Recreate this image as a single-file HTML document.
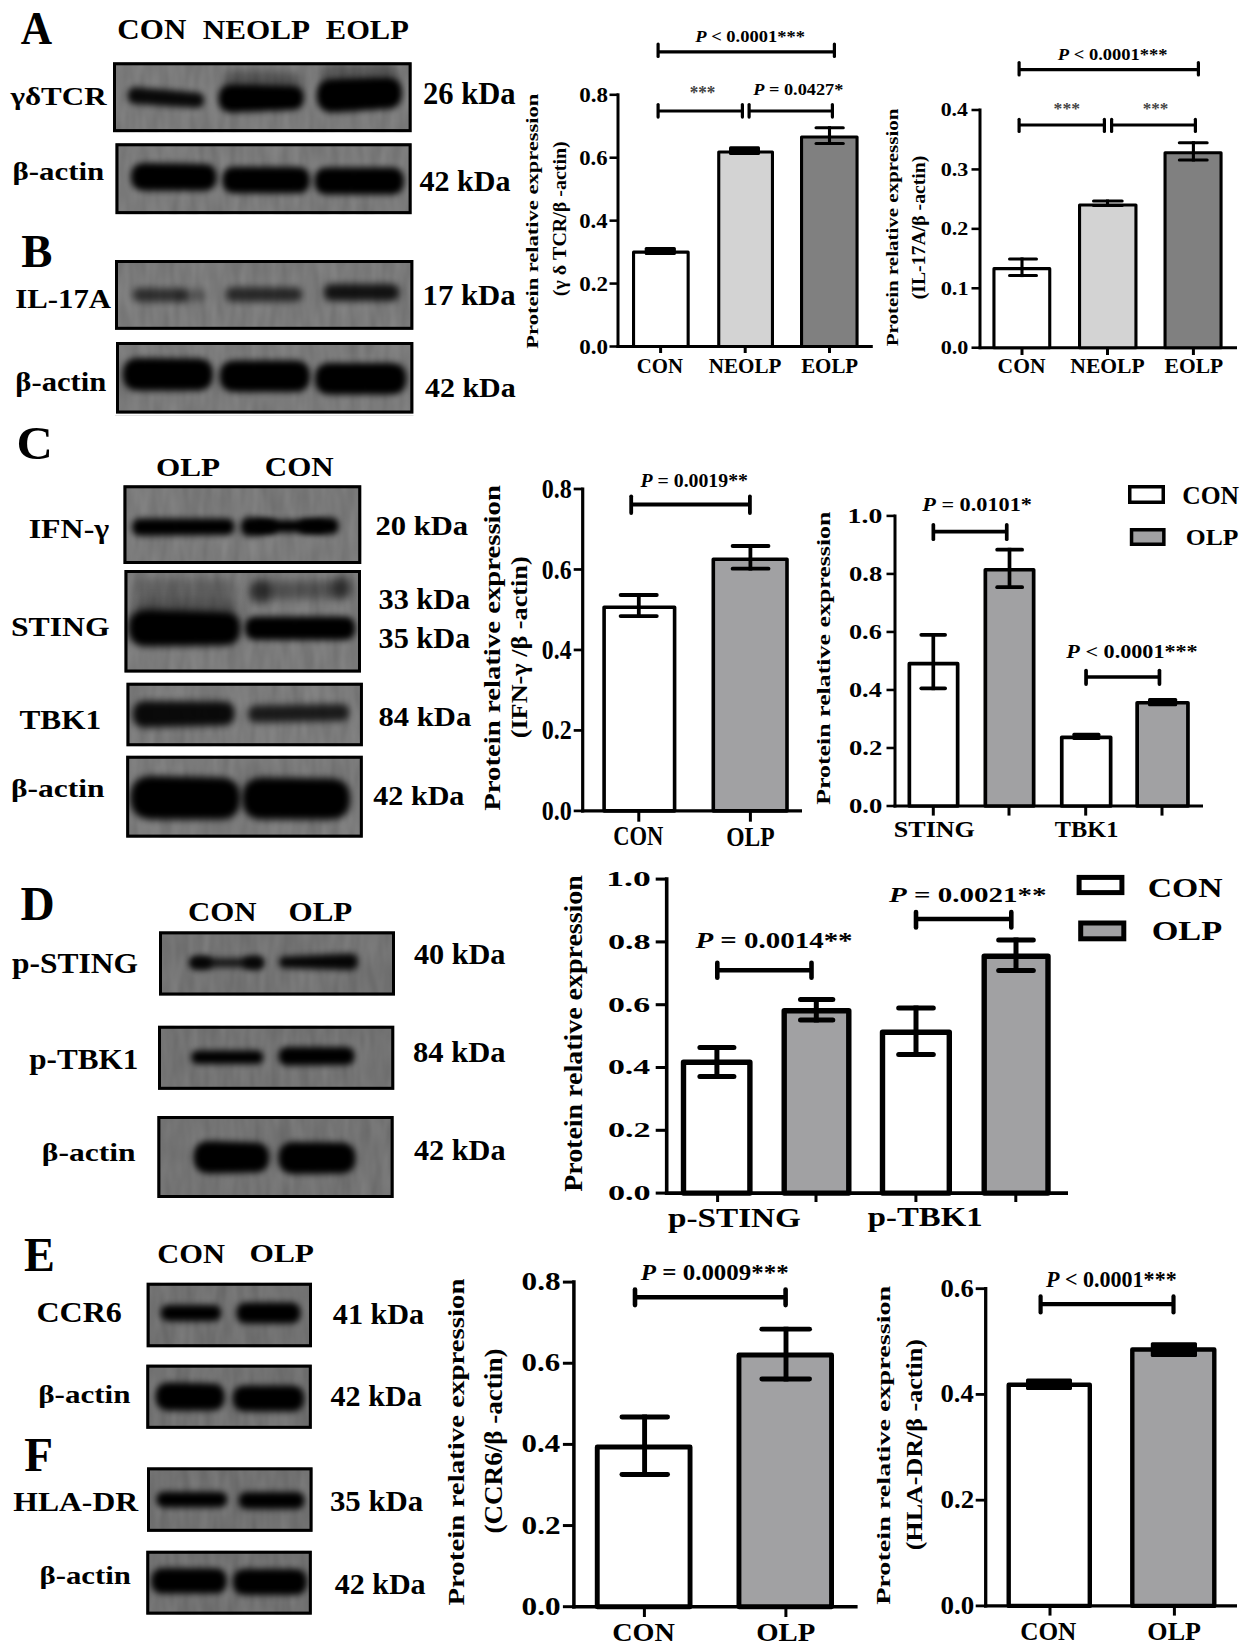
<!DOCTYPE html>
<html><head><meta charset="utf-8"><style>
html,body{margin:0;padding:0;background:#fff;}
svg{display:block;}
text{font-family:"Liberation Serif",serif;font-weight:bold;}
</style></head><body>
<svg width="1247" height="1649" viewBox="0 0 1247 1649">
<defs>
<filter id="b32" x="-30%" y="-100%" width="160%" height="300%"><feGaussianBlur stdDeviation="3.2"/></filter>
<filter id="b34" x="-30%" y="-100%" width="160%" height="300%"><feGaussianBlur stdDeviation="3.4"/></filter>
<filter id="b36" x="-30%" y="-100%" width="160%" height="300%"><feGaussianBlur stdDeviation="3.6"/></filter>
<filter id="b38" x="-30%" y="-100%" width="160%" height="300%"><feGaussianBlur stdDeviation="3.8"/></filter>
<filter id="b40" x="-30%" y="-100%" width="160%" height="300%"><feGaussianBlur stdDeviation="4.0"/></filter>
<filter id="b45" x="-30%" y="-100%" width="160%" height="300%"><feGaussianBlur stdDeviation="4.5"/></filter>
<filter id="b50" x="-30%" y="-100%" width="160%" height="300%"><feGaussianBlur stdDeviation="5.0"/></filter>
<filter id="nz" x="0" y="0" width="100%" height="100%" color-interpolation-filters="sRGB"><feTurbulence type="fractalNoise" baseFrequency="0.1 0.025" numOctaves="2" seed="7"/><feColorMatrix type="matrix" values="1 0 0 0 0  1 0 0 0 0  1 0 0 0 0  0 0 0 0 1"/></filter>
</defs>
<rect width="1247" height="1649" fill="#fff"/>
<line x1="115" y1="415.5" x2="413.5" y2="415.5" stroke="#e2e2e2" stroke-width="1"/>
<clipPath id="c1"><rect x="113.00" y="62.30" width="298.60" height="69.80"/></clipPath>
<rect x="113.00" y="62.30" width="298.60" height="69.80" fill="#7a7a7a"/>
<rect x="113.00" y="62.30" width="298.60" height="69.80" fill="#808080" filter="url(#nz)" opacity="0.10"/>
<g clip-path="url(#c1)">
<path d="M135.9 87.3 L196.4 92.5 Q204.2 92.5 204.2 100.2 Q204.2 108.0 196.4 108.0 L135.9 104.0 Q127.6 104.0 127.6 95.7 Q127.6 87.3 135.9 87.3 Z" fill="#060606" opacity="0.92" filter="url(#b32)"/>
<path d="M232.4 84.5 L291.8 86.0 Q303.8 86.0 303.8 98.0 Q303.8 110.0 291.8 110.0 L232.4 112.5 Q218.4 112.5 218.4 98.5 Q218.4 84.5 232.4 84.5 Z" fill="#060606" opacity="1.00" filter="url(#b32)"/>
<path d="M237.0 70.5 L289.0 72.5 Q301.0 72.5 301.0 84.5 Q301.0 96.5 289.0 96.5 L237.0 96.5 Q224.0 96.5 224.0 83.5 Q224.0 70.5 237.0 70.5 Z" fill="#060606" opacity="0.35" filter="url(#b50)"/>
<path d="M333.4 79.0 L386.1 77.5 Q401.9 77.5 401.9 93.2 Q401.9 109.0 386.1 109.0 L333.4 112.5 Q316.6 112.5 316.6 95.8 Q316.6 79.0 333.4 79.0 Z" fill="#060606" opacity="1.00" filter="url(#b32)"/>
<path d="M334.5 64.5 L385.5 64.5 Q399.0 64.5 399.0 78.0 Q399.0 91.5 385.5 91.5 L334.5 91.5 Q321.0 91.5 321.0 78.0 Q321.0 64.5 334.5 64.5 Z" fill="#060606" opacity="0.30" filter="url(#b50)"/>
</g>
<rect x="114.50" y="63.80" width="295.60" height="66.80" fill="none" stroke="#000" stroke-width="3.00"/>
<clipPath id="c2"><rect x="115.50" y="143.30" width="296.10" height="70.80"/></clipPath>
<rect x="115.50" y="143.30" width="296.10" height="70.80" fill="#7a7a7a"/>
<rect x="115.50" y="143.30" width="296.10" height="70.80" fill="#808080" filter="url(#nz)" opacity="0.10"/>
<g clip-path="url(#c2)">
<path d="M144.8 162.9 L203.3 164.0 Q216.7 164.0 216.7 177.3 Q216.7 190.7 203.3 190.7 L144.8 190.7 Q130.9 190.7 130.9 176.8 Q130.9 162.9 144.8 162.9 Z" fill="#060606" opacity="1.00" filter="url(#b32)"/>
<path d="M235.5 166.7 L296.9 167.0 Q310.0 167.0 310.0 180.2 Q310.0 193.3 296.9 193.3 L235.5 193.3 Q222.2 193.3 222.2 180.0 Q222.2 166.7 235.5 166.7 Z" fill="#060606" opacity="1.00" filter="url(#b32)"/>
<path d="M327.7 167.5 L390.5 167.5 Q404.0 167.5 404.0 181.0 Q404.0 194.5 390.5 194.5 L327.7 194.5 Q314.2 194.5 314.2 181.0 Q314.2 167.5 327.7 167.5 Z" fill="#060606" opacity="1.00" filter="url(#b32)"/>
</g>
<rect x="117.00" y="144.80" width="293.10" height="67.80" fill="none" stroke="#000" stroke-width="3.00"/>
<clipPath id="c3"><rect x="115.00" y="260.00" width="298.30" height="69.80"/></clipPath>
<rect x="115.00" y="260.00" width="298.30" height="69.80" fill="#7a7a7a"/>
<rect x="115.00" y="260.00" width="298.30" height="69.80" fill="#808080" filter="url(#nz)" opacity="0.10"/>
<g clip-path="url(#c3)">
<path d="M139.6 288.0 L180.2 288.5 Q187.0 288.5 187.0 295.2 Q187.0 302.0 180.2 302.0 L139.6 302.0 Q132.6 302.0 132.6 295.0 Q132.6 288.0 139.6 288.0 Z" fill="#060606" opacity="0.62" filter="url(#b36)"/>
<path d="M185.0 289.5 L199.5 289.5 Q205.5 289.5 205.5 295.5 Q205.5 301.5 199.5 301.5 L185.0 301.5 Q179.0 301.5 179.0 295.5 Q179.0 289.5 185.0 289.5 Z" fill="#060606" opacity="0.30" filter="url(#b36)"/>
<path d="M233.3 287.0 L295.4 287.5 Q302.4 287.5 302.4 294.5 Q302.4 301.5 295.4 301.5 L233.3 302.0 Q225.8 302.0 225.8 294.5 Q225.8 287.0 233.3 287.0 Z" fill="#060606" opacity="0.68" filter="url(#b36)"/>
<path d="M332.5 284.0 L390.9 284.0 Q399.4 284.0 399.4 292.5 Q399.4 301.0 390.9 301.0 L332.5 301.0 Q324.0 301.0 324.0 292.5 Q324.0 284.0 332.5 284.0 Z" fill="#060606" opacity="0.85" filter="url(#b36)"/>
</g>
<rect x="116.50" y="261.50" width="295.30" height="66.80" fill="none" stroke="#000" stroke-width="3.00"/>
<clipPath id="c4"><rect x="116.00" y="342.00" width="297.30" height="71.50"/></clipPath>
<rect x="116.00" y="342.00" width="297.30" height="71.50" fill="#7a7a7a"/>
<rect x="116.00" y="342.00" width="297.30" height="71.50" fill="#808080" filter="url(#nz)" opacity="0.10"/>
<g clip-path="url(#c4)">
<path d="M139.1 357.9 L196.9 358.5 Q213.0 358.5 213.0 374.6 Q213.0 390.7 196.9 390.7 L139.1 390.7 Q122.7 390.7 122.7 374.3 Q122.7 357.9 139.1 357.9 Z" fill="#060606" opacity="1.00" filter="url(#b32)"/>
<path d="M235.3 360.5 L294.2 360.5 Q310.0 360.5 310.0 376.2 Q310.0 392.0 294.2 392.0 L235.3 392.0 Q219.6 392.0 219.6 376.2 Q219.6 360.5 235.3 360.5 Z" fill="#060606" opacity="1.00" filter="url(#b32)"/>
<path d="M330.6 362.9 L390.5 362.9 Q406.3 362.9 406.3 378.7 Q406.3 394.5 390.5 394.5 L330.6 394.5 Q314.8 394.5 314.8 378.7 Q314.8 362.9 330.6 362.9 Z" fill="#060606" opacity="1.00" filter="url(#b32)"/>
</g>
<rect x="117.50" y="343.50" width="294.30" height="68.50" fill="none" stroke="#000" stroke-width="3.00"/>
<clipPath id="c5"><rect x="123.50" y="485.30" width="237.70" height="78.70"/></clipPath>
<rect x="123.50" y="485.30" width="237.70" height="78.70" fill="#7a7a7a"/>
<rect x="123.50" y="485.30" width="237.70" height="78.70" fill="#808080" filter="url(#nz)" opacity="0.10"/>
<g clip-path="url(#c5)">
<path d="M140.7 518.4 L226.3 518.5 Q234.6 518.5 234.6 526.8 Q234.6 535.0 226.3 535.0 L140.7 535.7 Q132.0 535.7 132.0 527.0 Q132.0 518.4 140.7 518.4 Z" fill="#060606" opacity="1.00" filter="url(#b32)"/>
<path d="M250.6 517.0 L270.0 519.5 Q277.0 519.5 277.0 526.5 Q277.0 533.5 270.0 533.5 L250.6 536.5 Q240.8 536.5 240.8 526.8 Q240.8 517.0 250.6 517.0 Z" fill="#060606" opacity="1.00" filter="url(#b32)"/>
<path d="M260.2 520.0 L319.8 520.0 Q326.0 520.0 326.0 526.2 Q326.0 532.5 319.8 532.5 L260.2 532.5 Q254.0 532.5 254.0 526.2 Q254.0 520.0 260.2 520.0 Z" fill="#060606" opacity="1.00" filter="url(#b32)"/>
<path d="M305.8 519.5 L330.4 517.5 Q338.9 517.5 338.9 526.0 Q338.9 534.5 330.4 534.5 L305.8 533.0 Q299.0 533.0 299.0 526.2 Q299.0 519.5 305.8 519.5 Z" fill="#060606" opacity="1.00" filter="url(#b32)"/>
</g>
<rect x="125.00" y="486.80" width="234.70" height="75.70" fill="none" stroke="#000" stroke-width="3.00"/>
<clipPath id="c6"><rect x="124.50" y="570.00" width="236.50" height="102.50"/></clipPath>
<rect x="124.50" y="570.00" width="236.50" height="102.50" fill="#7a7a7a"/>
<rect x="124.50" y="570.00" width="236.50" height="102.50" fill="#808080" filter="url(#nz)" opacity="0.10"/>
<g clip-path="url(#c6)">
<path d="M144.5 578.5 L226.0 579.5 Q236.0 579.5 236.0 589.5 Q236.0 599.5 226.0 599.5 L144.5 599.5 Q134.0 599.5 134.0 589.0 Q134.0 578.5 144.5 578.5 Z" fill="#060606" opacity="0.22" filter="url(#b50)"/>
<path d="M260.0 581.5 L340.0 580.5 Q349.0 580.5 349.0 589.5 Q349.0 598.5 340.0 598.5 L260.0 599.5 Q251.0 599.5 251.0 590.5 Q251.0 581.5 260.0 581.5 Z" fill="#060606" opacity="0.35" filter="url(#b45)"/>
<path d="M260.5 580.5 L259.5 580.5 Q271.0 580.5 271.0 592.0 Q271.0 603.5 259.5 603.5 L260.5 603.5 Q249.0 603.5 249.0 592.0 Q249.0 580.5 260.5 580.5 Z" fill="#060606" opacity="0.45" filter="url(#b40)"/>
<path d="M343.0 576.5 L340.0 576.5 Q351.0 576.5 351.0 587.5 Q351.0 598.5 340.0 598.5 L343.0 598.5 Q332.0 598.5 332.0 587.5 Q332.0 576.5 343.0 576.5 Z" fill="#060606" opacity="0.45" filter="url(#b40)"/>
<path d="M146.8 609.5 L223.7 611.5 Q240.7 611.5 240.7 628.5 Q240.7 645.5 223.7 645.5 L146.8 646.5 Q128.3 646.5 128.3 628.0 Q128.3 609.5 146.8 609.5 Z" fill="#060606" opacity="1.00" filter="url(#b36)"/>
<path d="M143.0 598.5 L227.0 598.5 Q236.0 598.5 236.0 607.5 Q236.0 616.5 227.0 616.5 L143.0 616.5 Q134.0 616.5 134.0 607.5 Q134.0 598.5 143.0 598.5 Z" fill="#060606" opacity="0.35" filter="url(#b50)"/>
<path d="M256.6 616.5 L343.6 616.5 Q355.3 616.5 355.3 628.2 Q355.3 640.0 343.6 640.0 L256.6 640.0 Q244.9 640.0 244.9 628.2 Q244.9 616.5 256.6 616.5 Z" fill="#060606" opacity="1.00" filter="url(#b34)"/>
</g>
<rect x="126.00" y="571.50" width="233.50" height="99.50" fill="none" stroke="#000" stroke-width="3.00"/>
<clipPath id="c7"><rect x="126.50" y="682.80" width="236.40" height="63.40"/></clipPath>
<rect x="126.50" y="682.80" width="236.40" height="63.40" fill="#7a7a7a"/>
<rect x="126.50" y="682.80" width="236.40" height="63.40" fill="#808080" filter="url(#nz)" opacity="0.10"/>
<g clip-path="url(#c7)">
<path d="M145.7 701.0 L222.6 701.5 Q234.6 701.5 234.6 713.5 Q234.6 725.5 222.6 725.5 L145.7 727.5 Q132.4 727.5 132.4 714.2 Q132.4 701.0 145.7 701.0 Z" fill="#060606" opacity="0.92" filter="url(#b38)"/>
<path d="M256.5 705.5 L340.5 704.0 Q349.0 704.0 349.0 712.5 Q349.0 721.0 340.5 721.0 L256.5 722.5 Q248.0 722.5 248.0 714.0 Q248.0 705.5 256.5 705.5 Z" fill="#060606" opacity="0.78" filter="url(#b36)"/>
</g>
<rect x="128.00" y="684.30" width="233.40" height="60.40" fill="none" stroke="#000" stroke-width="3.00"/>
<clipPath id="c8"><rect x="126.20" y="755.80" width="236.60" height="81.80"/></clipPath>
<rect x="126.20" y="755.80" width="236.60" height="81.80" fill="#7a7a7a"/>
<rect x="126.20" y="755.80" width="236.60" height="81.80" fill="#808080" filter="url(#nz)" opacity="0.10"/>
<g clip-path="url(#c8)">
<path d="M152.2 776.0 L219.5 777.5 Q240.5 777.5 240.5 798.5 Q240.5 819.5 219.5 819.5 L152.2 819.5 Q130.4 819.5 130.4 797.8 Q130.4 776.0 152.2 776.0 Z" fill="#060606" opacity="1.00" filter="url(#b36)"/>
<path d="M263.0 777.5 L329.7 778.5 Q350.2 778.5 350.2 799.0 Q350.2 819.5 329.7 819.5 L263.0 819.5 Q242.0 819.5 242.0 798.5 Q242.0 777.5 263.0 777.5 Z" fill="#060606" opacity="1.00" filter="url(#b36)"/>
</g>
<rect x="127.70" y="757.30" width="233.60" height="78.80" fill="none" stroke="#000" stroke-width="3.00"/>
<clipPath id="c9"><rect x="159.00" y="931.40" width="236.00" height="64.10"/></clipPath>
<rect x="159.00" y="931.40" width="236.00" height="64.10" fill="#727272"/>
<rect x="159.00" y="931.40" width="236.00" height="64.10" fill="#808080" filter="url(#nz)" opacity="0.10"/>
<g clip-path="url(#c9)">
<path d="M194.8 958.0 L258.2 958.0 Q263.0 958.0 263.0 962.8 Q263.0 967.5 258.2 967.5 L194.8 967.5 Q190.0 967.5 190.0 962.8 Q190.0 958.0 194.8 958.0 Z" fill="#060606" opacity="0.78" filter="url(#b34)"/>
<path d="M196.8 956.0 L205.2 956.0 Q212.0 956.0 212.0 962.8 Q212.0 969.5 205.2 969.5 L196.8 969.5 Q190.0 969.5 190.0 962.8 Q190.0 956.0 196.8 956.0 Z" fill="#060606" opacity="0.85" filter="url(#b34)"/>
<path d="M249.8 956.0 L257.2 956.0 Q264.0 956.0 264.0 962.8 Q264.0 969.5 257.2 969.5 L249.8 969.5 Q243.0 969.5 243.0 962.8 Q243.0 956.0 249.8 956.0 Z" fill="#060606" opacity="0.80" filter="url(#b34)"/>
<path d="M284.8 956.5 L349.8 953.5 Q358.0 953.5 358.0 961.8 Q358.0 970.0 349.8 970.0 L284.8 968.0 Q279.0 968.0 279.0 962.2 Q279.0 956.5 284.8 956.5 Z" fill="#060606" opacity="0.95" filter="url(#b34)"/>
</g>
<rect x="160.50" y="932.90" width="233.00" height="61.10" fill="none" stroke="#000" stroke-width="3.00"/>
<clipPath id="c10"><rect x="158.00" y="1025.80" width="236.20" height="64.00"/></clipPath>
<rect x="158.00" y="1025.80" width="236.20" height="64.00" fill="#727272"/>
<rect x="158.00" y="1025.80" width="236.20" height="64.00" fill="#808080" filter="url(#nz)" opacity="0.10"/>
<g clip-path="url(#c10)">
<path d="M197.8 1050.5 L256.6 1050.5 Q263.3 1050.5 263.3 1057.2 Q263.3 1064.0 256.6 1064.0 L197.8 1064.0 Q191.1 1064.0 191.1 1057.2 Q191.1 1050.5 197.8 1050.5 Z" fill="#060606" opacity="1.00" filter="url(#b32)"/>
<path d="M287.6 1047.0 L345.5 1047.0 Q354.5 1047.0 354.5 1056.0 Q354.5 1065.0 345.5 1065.0 L287.6 1065.5 Q278.3 1065.5 278.3 1056.2 Q278.3 1047.0 287.6 1047.0 Z" fill="#060606" opacity="1.00" filter="url(#b32)"/>
</g>
<rect x="159.50" y="1027.30" width="233.20" height="61.00" fill="none" stroke="#000" stroke-width="3.00"/>
<clipPath id="c11"><rect x="157.40" y="1116.00" width="236.20" height="82.00"/></clipPath>
<rect x="157.40" y="1116.00" width="236.20" height="82.00" fill="#727272"/>
<rect x="157.40" y="1116.00" width="236.20" height="82.00" fill="#808080" filter="url(#nz)" opacity="0.10"/>
<g clip-path="url(#c11)">
<path d="M209.8 1141.0 L254.3 1142.5 Q269.3 1142.5 269.3 1157.5 Q269.3 1172.5 254.3 1172.5 L209.8 1173.5 Q193.5 1173.5 193.5 1157.2 Q193.5 1141.0 209.8 1141.0 Z" fill="#060606" opacity="1.00" filter="url(#b32)"/>
<path d="M294.3 1142.0 L340.0 1142.5 Q355.5 1142.5 355.5 1158.0 Q355.5 1173.5 340.0 1173.5 L294.3 1174.1 Q278.3 1174.1 278.3 1158.0 Q278.3 1142.0 294.3 1142.0 Z" fill="#060606" opacity="1.00" filter="url(#b32)"/>
</g>
<rect x="158.90" y="1117.50" width="233.20" height="79.00" fill="none" stroke="#000" stroke-width="3.00"/>
<clipPath id="c12"><rect x="146.70" y="1282.80" width="165.30" height="64.40"/></clipPath>
<rect x="146.70" y="1282.80" width="165.30" height="64.40" fill="#707070"/>
<rect x="146.70" y="1282.80" width="165.30" height="64.40" fill="#808080" filter="url(#nz)" opacity="0.10"/>
<g clip-path="url(#c12)">
<path d="M168.8 1305.0 L213.0 1305.0 Q221.1 1305.0 221.1 1313.1 Q221.1 1321.2 213.0 1321.2 L168.8 1321.2 Q160.7 1321.2 160.7 1313.1 Q160.7 1305.0 168.8 1305.0 Z" fill="#060606" opacity="1.00" filter="url(#b32)"/>
<path d="M246.9 1302.4 L290.0 1302.5 Q300.5 1302.5 300.5 1313.0 Q300.5 1323.5 290.0 1323.5 L246.9 1323.4 Q236.4 1323.4 236.4 1312.9 Q236.4 1302.4 246.9 1302.4 Z" fill="#060606" opacity="1.00" filter="url(#b32)"/>
</g>
<rect x="148.20" y="1284.30" width="162.30" height="61.40" fill="none" stroke="#000" stroke-width="3.00"/>
<clipPath id="c13"><rect x="146.30" y="1364.70" width="165.50" height="64.10"/></clipPath>
<rect x="146.30" y="1364.70" width="165.50" height="64.10" fill="#707070"/>
<rect x="146.30" y="1364.70" width="165.50" height="64.10" fill="#808080" filter="url(#nz)" opacity="0.10"/>
<g clip-path="url(#c13)">
<path d="M169.7 1382.5 L211.2 1383.5 Q224.7 1383.5 224.7 1397.0 Q224.7 1410.5 211.2 1410.5 L169.7 1410.7 Q155.6 1410.7 155.6 1396.6 Q155.6 1382.5 169.7 1382.5 Z" fill="#060606" opacity="1.00" filter="url(#b32)"/>
<path d="M245.8 1385.4 L291.1 1385.4 Q304.1 1385.4 304.1 1398.5 Q304.1 1411.5 291.1 1411.5 L245.8 1411.5 Q232.8 1411.5 232.8 1398.5 Q232.8 1385.4 245.8 1385.4 Z" fill="#060606" opacity="1.00" filter="url(#b32)"/>
</g>
<rect x="147.80" y="1366.20" width="162.50" height="61.10" fill="none" stroke="#000" stroke-width="3.00"/>
<clipPath id="c14"><rect x="147.00" y="1467.40" width="165.50" height="64.40"/></clipPath>
<rect x="147.00" y="1467.40" width="165.50" height="64.40" fill="#707070"/>
<rect x="147.00" y="1467.40" width="165.50" height="64.40" fill="#808080" filter="url(#nz)" opacity="0.10"/>
<g clip-path="url(#c14)">
<path d="M164.2 1491.7 L219.4 1491.7 Q227.3 1491.7 227.3 1499.6 Q227.3 1507.4 219.4 1507.4 L164.2 1507.4 Q156.3 1507.4 156.3 1499.6 Q156.3 1491.7 164.2 1491.7 Z" fill="#060606" opacity="1.00" filter="url(#b32)"/>
<path d="M247.1 1492.0 L296.0 1492.0 Q304.5 1492.0 304.5 1500.5 Q304.5 1509.1 296.0 1509.1 L247.1 1509.1 Q238.6 1509.1 238.6 1500.5 Q238.6 1492.0 247.1 1492.0 Z" fill="#060606" opacity="1.00" filter="url(#b32)"/>
</g>
<rect x="148.50" y="1468.90" width="162.50" height="61.40" fill="none" stroke="#000" stroke-width="3.00"/>
<clipPath id="c15"><rect x="146.30" y="1550.80" width="165.50" height="63.80"/></clipPath>
<rect x="146.30" y="1550.80" width="165.50" height="63.80" fill="#707070"/>
<rect x="146.30" y="1550.80" width="165.50" height="63.80" fill="#808080" filter="url(#nz)" opacity="0.10"/>
<g clip-path="url(#c15)">
<path d="M164.0 1568.2 L214.2 1568.2 Q226.9 1568.2 226.9 1580.9 Q226.9 1593.6 214.2 1593.6 L164.0 1593.6 Q151.3 1593.6 151.3 1580.9 Q151.3 1568.2 164.0 1568.2 Z" fill="#060606" opacity="1.00" filter="url(#b32)"/>
<path d="M245.8 1568.9 L294.0 1568.9 Q307.0 1568.9 307.0 1582.0 Q307.0 1595.0 294.0 1595.0 L245.8 1595.0 Q232.8 1595.0 232.8 1582.0 Q232.8 1568.9 245.8 1568.9 Z" fill="#060606" opacity="1.00" filter="url(#b32)"/>
</g>
<rect x="147.80" y="1552.30" width="162.50" height="60.80" fill="none" stroke="#000" stroke-width="3.00"/>
<line x1="618.00" y1="93.30" x2="618.00" y2="348.00" stroke="#000" stroke-width="3.00" stroke-linecap="butt"/>
<line x1="616.50" y1="346.50" x2="872.80" y2="346.50" stroke="#000" stroke-width="3.00" stroke-linecap="butt"/>
<line x1="609.50" y1="346.50" x2="618.00" y2="346.50" stroke="#000" stroke-width="2.55" stroke-linecap="butt"/>
<line x1="609.50" y1="283.57" x2="618.00" y2="283.57" stroke="#000" stroke-width="2.55" stroke-linecap="butt"/>
<line x1="609.50" y1="220.65" x2="618.00" y2="220.65" stroke="#000" stroke-width="2.55" stroke-linecap="butt"/>
<line x1="609.50" y1="157.72" x2="618.00" y2="157.72" stroke="#000" stroke-width="2.55" stroke-linecap="butt"/>
<line x1="609.50" y1="94.80" x2="618.00" y2="94.80" stroke="#000" stroke-width="2.55" stroke-linecap="butt"/>
<rect x="633.55" y="252.15" width="54.60" height="94.35" fill="#ffffff" stroke="#000" stroke-width="3.10" stroke-linejoin="round"/>
<rect x="718.75" y="152.05" width="53.70" height="194.45" fill="#d3d3d3" stroke="#000" stroke-width="3.10" stroke-linejoin="round"/>
<rect x="801.55" y="137.05" width="55.50" height="209.45" fill="#808080" stroke="#000" stroke-width="3.10" stroke-linejoin="round"/>
<rect x="644.70" y="246.90" width="31.20" height="8.10" rx="1.5" fill="#000"/>
<rect x="729.00" y="146.20" width="31.00" height="8.90" rx="1.5" fill="#000"/>
<line x1="829.50" y1="126.20" x2="829.50" y2="145.00" stroke="#000" stroke-width="3.10" stroke-linecap="butt"/>
<line x1="816.05" y1="127.75" x2="843.25" y2="127.75" stroke="#000" stroke-width="3.10" stroke-linecap="round"/>
<line x1="816.05" y1="143.45" x2="843.25" y2="143.45" stroke="#000" stroke-width="3.10" stroke-linecap="round"/>
<line x1="660.60" y1="346.50" x2="660.60" y2="353.00" stroke="#000" stroke-width="3.00" stroke-linecap="butt"/>
<line x1="745.20" y1="346.50" x2="745.20" y2="353.00" stroke="#000" stroke-width="3.00" stroke-linecap="butt"/>
<line x1="829.50" y1="346.50" x2="829.50" y2="353.00" stroke="#000" stroke-width="3.00" stroke-linecap="butt"/>
<line x1="658.10" y1="51.80" x2="834.40" y2="51.80" stroke="#000" stroke-width="3.20" stroke-linecap="butt"/>
<line x1="658.10" y1="44.10" x2="658.10" y2="56.40" stroke="#000" stroke-width="3.20" stroke-linecap="round"/>
<line x1="834.40" y1="44.10" x2="834.40" y2="56.40" stroke="#000" stroke-width="3.20" stroke-linecap="round"/>
<line x1="658.10" y1="111.00" x2="742.40" y2="111.00" stroke="#000" stroke-width="3.20" stroke-linecap="butt"/>
<line x1="658.10" y1="104.60" x2="658.10" y2="117.10" stroke="#000" stroke-width="3.20" stroke-linecap="round"/>
<line x1="742.40" y1="104.60" x2="742.40" y2="117.10" stroke="#000" stroke-width="3.20" stroke-linecap="round"/>
<line x1="749.10" y1="111.00" x2="832.40" y2="111.00" stroke="#000" stroke-width="3.20" stroke-linecap="butt"/>
<line x1="749.10" y1="104.60" x2="749.10" y2="117.10" stroke="#000" stroke-width="3.20" stroke-linecap="round"/>
<line x1="832.40" y1="104.60" x2="832.40" y2="117.10" stroke="#000" stroke-width="3.20" stroke-linecap="round"/>
<line x1="980.00" y1="108.50" x2="980.00" y2="349.20" stroke="#000" stroke-width="3.00" stroke-linecap="butt"/>
<line x1="978.50" y1="347.70" x2="1237.00" y2="347.70" stroke="#000" stroke-width="3.00" stroke-linecap="butt"/>
<line x1="971.50" y1="347.70" x2="980.00" y2="347.70" stroke="#000" stroke-width="2.55" stroke-linecap="butt"/>
<line x1="971.50" y1="288.27" x2="980.00" y2="288.27" stroke="#000" stroke-width="2.55" stroke-linecap="butt"/>
<line x1="971.50" y1="228.85" x2="980.00" y2="228.85" stroke="#000" stroke-width="2.55" stroke-linecap="butt"/>
<line x1="971.50" y1="169.42" x2="980.00" y2="169.42" stroke="#000" stroke-width="2.55" stroke-linecap="butt"/>
<line x1="971.50" y1="110.00" x2="980.00" y2="110.00" stroke="#000" stroke-width="2.55" stroke-linecap="butt"/>
<rect x="993.95" y="268.65" width="55.80" height="79.05" fill="#ffffff" stroke="#000" stroke-width="3.10" stroke-linejoin="round"/>
<rect x="1079.55" y="205.05" width="56.40" height="142.65" fill="#d3d3d3" stroke="#000" stroke-width="3.10" stroke-linejoin="round"/>
<rect x="1165.05" y="152.75" width="56.00" height="194.95" fill="#808080" stroke="#000" stroke-width="3.10" stroke-linejoin="round"/>
<line x1="1022.00" y1="257.40" x2="1022.00" y2="277.10" stroke="#000" stroke-width="3.10" stroke-linecap="butt"/>
<line x1="1009.55" y1="258.95" x2="1036.45" y2="258.95" stroke="#000" stroke-width="3.10" stroke-linecap="round"/>
<line x1="1009.55" y1="275.55" x2="1036.45" y2="275.55" stroke="#000" stroke-width="3.10" stroke-linecap="round"/>
<line x1="1107.50" y1="199.50" x2="1107.50" y2="207.00" stroke="#000" stroke-width="3.10" stroke-linecap="butt"/>
<line x1="1093.55" y1="201.05" x2="1122.15" y2="201.05" stroke="#000" stroke-width="3.10" stroke-linecap="round"/>
<line x1="1093.55" y1="205.45" x2="1122.15" y2="205.45" stroke="#000" stroke-width="3.10" stroke-linecap="round"/>
<line x1="1193.40" y1="141.20" x2="1193.40" y2="161.50" stroke="#000" stroke-width="3.10" stroke-linecap="butt"/>
<line x1="1179.35" y1="142.75" x2="1207.15" y2="142.75" stroke="#000" stroke-width="3.10" stroke-linecap="round"/>
<line x1="1179.35" y1="159.95" x2="1207.15" y2="159.95" stroke="#000" stroke-width="3.10" stroke-linecap="round"/>
<line x1="1022.00" y1="347.70" x2="1022.00" y2="355.00" stroke="#000" stroke-width="3.00" stroke-linecap="butt"/>
<line x1="1107.50" y1="347.70" x2="1107.50" y2="355.00" stroke="#000" stroke-width="3.00" stroke-linecap="butt"/>
<line x1="1193.40" y1="347.70" x2="1193.40" y2="355.00" stroke="#000" stroke-width="3.00" stroke-linecap="butt"/>
<line x1="1019.10" y1="69.70" x2="1198.40" y2="69.70" stroke="#000" stroke-width="3.20" stroke-linecap="butt"/>
<line x1="1019.10" y1="62.60" x2="1019.10" y2="74.90" stroke="#000" stroke-width="3.20" stroke-linecap="round"/>
<line x1="1198.40" y1="62.60" x2="1198.40" y2="74.90" stroke="#000" stroke-width="3.20" stroke-linecap="round"/>
<line x1="1019.10" y1="125.00" x2="1104.40" y2="125.00" stroke="#000" stroke-width="3.20" stroke-linecap="butt"/>
<line x1="1019.10" y1="119.30" x2="1019.10" y2="131.40" stroke="#000" stroke-width="3.20" stroke-linecap="round"/>
<line x1="1104.40" y1="119.30" x2="1104.40" y2="131.40" stroke="#000" stroke-width="3.20" stroke-linecap="round"/>
<line x1="1111.60" y1="125.00" x2="1195.40" y2="125.00" stroke="#000" stroke-width="3.20" stroke-linecap="butt"/>
<line x1="1111.60" y1="119.30" x2="1111.60" y2="131.40" stroke="#000" stroke-width="3.20" stroke-linecap="round"/>
<line x1="1195.40" y1="119.30" x2="1195.40" y2="131.40" stroke="#000" stroke-width="3.20" stroke-linecap="round"/>
<line x1="582.70" y1="487.40" x2="582.70" y2="812.50" stroke="#000" stroke-width="3.20" stroke-linecap="butt"/>
<line x1="581.10" y1="810.90" x2="802.00" y2="810.90" stroke="#000" stroke-width="3.20" stroke-linecap="butt"/>
<line x1="573.70" y1="810.90" x2="582.70" y2="810.90" stroke="#000" stroke-width="2.72" stroke-linecap="butt"/>
<line x1="573.70" y1="730.42" x2="582.70" y2="730.42" stroke="#000" stroke-width="2.72" stroke-linecap="butt"/>
<line x1="573.70" y1="649.95" x2="582.70" y2="649.95" stroke="#000" stroke-width="2.72" stroke-linecap="butt"/>
<line x1="573.70" y1="569.47" x2="582.70" y2="569.47" stroke="#000" stroke-width="2.72" stroke-linecap="butt"/>
<line x1="573.70" y1="489.00" x2="582.70" y2="489.00" stroke="#000" stroke-width="2.72" stroke-linecap="butt"/>
<rect x="604.10" y="607.30" width="70.50" height="203.60" fill="#ffffff" stroke="#000" stroke-width="3.60" stroke-linejoin="round"/>
<rect x="713.30" y="559.20" width="73.70" height="251.70" fill="#a1a1a3" stroke="#000" stroke-width="3.60" stroke-linejoin="round"/>
<line x1="638.80" y1="593.10" x2="638.80" y2="618.00" stroke="#000" stroke-width="3.80" stroke-linecap="butt"/>
<line x1="620.60" y1="595.00" x2="656.80" y2="595.00" stroke="#000" stroke-width="3.80" stroke-linecap="round"/>
<line x1="620.60" y1="616.10" x2="656.80" y2="616.10" stroke="#000" stroke-width="3.80" stroke-linecap="round"/>
<line x1="750.40" y1="544.10" x2="750.40" y2="570.60" stroke="#000" stroke-width="3.80" stroke-linecap="butt"/>
<line x1="732.60" y1="546.00" x2="768.50" y2="546.00" stroke="#000" stroke-width="3.80" stroke-linecap="round"/>
<line x1="732.60" y1="568.70" x2="768.50" y2="568.70" stroke="#000" stroke-width="3.80" stroke-linecap="round"/>
<line x1="638.80" y1="810.90" x2="638.80" y2="821.70" stroke="#000" stroke-width="3.00" stroke-linecap="butt"/>
<line x1="750.40" y1="810.90" x2="750.40" y2="821.70" stroke="#000" stroke-width="3.00" stroke-linecap="butt"/>
<line x1="631.20" y1="504.50" x2="749.90" y2="504.50" stroke="#000" stroke-width="3.80" stroke-linecap="butt"/>
<line x1="631.20" y1="496.30" x2="631.20" y2="513.10" stroke="#000" stroke-width="3.80" stroke-linecap="round"/>
<line x1="749.90" y1="496.30" x2="749.90" y2="513.10" stroke="#000" stroke-width="3.80" stroke-linecap="round"/>
<line x1="895.00" y1="514.40" x2="895.00" y2="807.50" stroke="#000" stroke-width="3.00" stroke-linecap="butt"/>
<line x1="893.50" y1="806.00" x2="1203.00" y2="806.00" stroke="#000" stroke-width="3.00" stroke-linecap="butt"/>
<line x1="886.50" y1="806.00" x2="895.00" y2="806.00" stroke="#000" stroke-width="2.55" stroke-linecap="butt"/>
<line x1="886.50" y1="747.98" x2="895.00" y2="747.98" stroke="#000" stroke-width="2.55" stroke-linecap="butt"/>
<line x1="886.50" y1="689.96" x2="895.00" y2="689.96" stroke="#000" stroke-width="2.55" stroke-linecap="butt"/>
<line x1="886.50" y1="631.94" x2="895.00" y2="631.94" stroke="#000" stroke-width="2.55" stroke-linecap="butt"/>
<line x1="886.50" y1="573.92" x2="895.00" y2="573.92" stroke="#000" stroke-width="2.55" stroke-linecap="butt"/>
<line x1="886.50" y1="515.90" x2="895.00" y2="515.90" stroke="#000" stroke-width="2.55" stroke-linecap="butt"/>
<rect x="909.35" y="663.65" width="48.30" height="142.35" fill="#ffffff" stroke="#000" stroke-width="3.70" stroke-linejoin="round"/>
<rect x="985.35" y="569.75" width="48.30" height="236.25" fill="#a1a1a3" stroke="#000" stroke-width="3.70" stroke-linejoin="round"/>
<rect x="1061.75" y="737.35" width="48.90" height="68.65" fill="#ffffff" stroke="#000" stroke-width="3.70" stroke-linejoin="round"/>
<rect x="1137.15" y="702.75" width="50.80" height="103.25" fill="#a1a1a3" stroke="#000" stroke-width="3.70" stroke-linejoin="round"/>
<line x1="933.30" y1="633.00" x2="933.30" y2="690.20" stroke="#000" stroke-width="3.70" stroke-linecap="butt"/>
<line x1="921.25" y1="634.85" x2="945.15" y2="634.85" stroke="#000" stroke-width="3.70" stroke-linecap="round"/>
<line x1="921.25" y1="688.35" x2="945.15" y2="688.35" stroke="#000" stroke-width="3.70" stroke-linecap="round"/>
<line x1="1009.50" y1="547.80" x2="1009.50" y2="589.00" stroke="#000" stroke-width="3.70" stroke-linecap="butt"/>
<line x1="997.15" y1="549.65" x2="1022.15" y2="549.65" stroke="#000" stroke-width="3.70" stroke-linecap="round"/>
<line x1="997.15" y1="587.15" x2="1022.15" y2="587.15" stroke="#000" stroke-width="3.70" stroke-linecap="round"/>
<rect x="1072.40" y="732.80" width="28.00" height="7.20" rx="1.5" fill="#000"/>
<rect x="1148.00" y="698.10" width="29.20" height="8.20" rx="1.5" fill="#000"/>
<line x1="933.30" y1="806.00" x2="933.30" y2="815.60" stroke="#000" stroke-width="3.00" stroke-linecap="butt"/>
<line x1="1009.00" y1="806.00" x2="1009.00" y2="815.60" stroke="#000" stroke-width="3.00" stroke-linecap="butt"/>
<line x1="1085.70" y1="806.00" x2="1085.70" y2="815.60" stroke="#000" stroke-width="3.00" stroke-linecap="butt"/>
<line x1="1162.00" y1="806.00" x2="1162.00" y2="815.60" stroke="#000" stroke-width="3.00" stroke-linecap="butt"/>
<line x1="933.35" y1="531.70" x2="1006.75" y2="531.70" stroke="#000" stroke-width="3.70" stroke-linecap="butt"/>
<line x1="933.35" y1="524.85" x2="933.35" y2="539.15" stroke="#000" stroke-width="3.70" stroke-linecap="round"/>
<line x1="1006.75" y1="524.85" x2="1006.75" y2="539.15" stroke="#000" stroke-width="3.70" stroke-linecap="round"/>
<line x1="1086.05" y1="677.00" x2="1159.45" y2="677.00" stroke="#000" stroke-width="3.70" stroke-linecap="butt"/>
<line x1="1086.05" y1="670.55" x2="1086.05" y2="684.05" stroke="#000" stroke-width="3.70" stroke-linecap="round"/>
<line x1="1159.45" y1="670.55" x2="1159.45" y2="684.05" stroke="#000" stroke-width="3.70" stroke-linecap="round"/>
<rect x="1129.75" y="486.75" width="33.5" height="15.5" fill="#fff" stroke="#000" stroke-width="3.5"/>
<rect x="1131.55" y="529.75" width="32.3" height="14.5" fill="#a1a1a3" stroke="#000" stroke-width="3.5"/>
<line x1="666.70" y1="877.30" x2="666.70" y2="1194.90" stroke="#000" stroke-width="3.60" stroke-linecap="butt"/>
<line x1="664.90" y1="1193.10" x2="1068.00" y2="1193.10" stroke="#000" stroke-width="3.60" stroke-linecap="butt"/>
<line x1="655.70" y1="1193.10" x2="666.70" y2="1193.10" stroke="#000" stroke-width="3.06" stroke-linecap="butt"/>
<line x1="655.70" y1="1130.30" x2="666.70" y2="1130.30" stroke="#000" stroke-width="3.06" stroke-linecap="butt"/>
<line x1="655.70" y1="1067.50" x2="666.70" y2="1067.50" stroke="#000" stroke-width="3.06" stroke-linecap="butt"/>
<line x1="655.70" y1="1004.70" x2="666.70" y2="1004.70" stroke="#000" stroke-width="3.06" stroke-linecap="butt"/>
<line x1="655.70" y1="941.90" x2="666.70" y2="941.90" stroke="#000" stroke-width="3.06" stroke-linecap="butt"/>
<line x1="655.70" y1="879.10" x2="666.70" y2="879.10" stroke="#000" stroke-width="3.06" stroke-linecap="butt"/>
<rect x="683.50" y="1062.20" width="66.40" height="130.90" fill="#ffffff" stroke="#000" stroke-width="5.40" stroke-linejoin="round"/>
<rect x="784.20" y="1010.70" width="64.60" height="182.40" fill="#a1a1a3" stroke="#000" stroke-width="5.40" stroke-linejoin="round"/>
<rect x="882.50" y="1032.20" width="66.80" height="160.90" fill="#ffffff" stroke="#000" stroke-width="5.40" stroke-linejoin="round"/>
<rect x="984.20" y="956.20" width="63.80" height="236.90" fill="#a1a1a3" stroke="#000" stroke-width="5.40" stroke-linejoin="round"/>
<line x1="716.90" y1="1045.00" x2="716.90" y2="1079.00" stroke="#000" stroke-width="5.00" stroke-linecap="butt"/>
<line x1="699.90" y1="1047.50" x2="733.90" y2="1047.50" stroke="#000" stroke-width="5.00" stroke-linecap="round"/>
<line x1="699.90" y1="1076.50" x2="733.90" y2="1076.50" stroke="#000" stroke-width="5.00" stroke-linecap="round"/>
<line x1="816.30" y1="997.00" x2="816.30" y2="1022.50" stroke="#000" stroke-width="5.00" stroke-linecap="butt"/>
<line x1="800.50" y1="999.50" x2="832.80" y2="999.50" stroke="#000" stroke-width="5.00" stroke-linecap="round"/>
<line x1="800.50" y1="1020.00" x2="832.80" y2="1020.00" stroke="#000" stroke-width="5.00" stroke-linecap="round"/>
<line x1="916.00" y1="1005.50" x2="916.00" y2="1057.00" stroke="#000" stroke-width="5.00" stroke-linecap="butt"/>
<line x1="898.70" y1="1008.00" x2="933.30" y2="1008.00" stroke="#000" stroke-width="5.00" stroke-linecap="round"/>
<line x1="898.70" y1="1054.50" x2="933.30" y2="1054.50" stroke="#000" stroke-width="5.00" stroke-linecap="round"/>
<line x1="1016.00" y1="937.50" x2="1016.00" y2="973.00" stroke="#000" stroke-width="5.00" stroke-linecap="butt"/>
<line x1="998.70" y1="940.00" x2="1033.30" y2="940.00" stroke="#000" stroke-width="5.00" stroke-linecap="round"/>
<line x1="998.70" y1="970.50" x2="1033.30" y2="970.50" stroke="#000" stroke-width="5.00" stroke-linecap="round"/>
<line x1="717.60" y1="1193.10" x2="717.60" y2="1202.00" stroke="#000" stroke-width="3.00" stroke-linecap="butt"/>
<line x1="816.00" y1="1193.10" x2="816.00" y2="1202.00" stroke="#000" stroke-width="3.00" stroke-linecap="butt"/>
<line x1="915.90" y1="1193.10" x2="915.90" y2="1202.00" stroke="#000" stroke-width="3.00" stroke-linecap="butt"/>
<line x1="1015.80" y1="1193.10" x2="1015.80" y2="1202.00" stroke="#000" stroke-width="3.00" stroke-linecap="butt"/>
<line x1="717.30" y1="970.30" x2="811.50" y2="970.30" stroke="#000" stroke-width="4.60" stroke-linecap="butt"/>
<line x1="717.30" y1="962.80" x2="717.30" y2="977.80" stroke="#000" stroke-width="4.60" stroke-linecap="round"/>
<line x1="811.50" y1="962.80" x2="811.50" y2="977.80" stroke="#000" stroke-width="4.60" stroke-linecap="round"/>
<line x1="916.00" y1="919.00" x2="1011.30" y2="919.00" stroke="#000" stroke-width="4.60" stroke-linecap="butt"/>
<line x1="916.00" y1="912.00" x2="916.00" y2="927.50" stroke="#000" stroke-width="4.60" stroke-linecap="round"/>
<line x1="1011.30" y1="912.00" x2="1011.30" y2="927.50" stroke="#000" stroke-width="4.60" stroke-linecap="round"/>
<rect x="1079.1" y="877.4" width="42.8" height="15.2" fill="#fff" stroke="#000" stroke-width="5"/>
<rect x="1080.7" y="923" width="43.1" height="15.8" fill="#a1a1a3" stroke="#000" stroke-width="5"/>
<line x1="573.90" y1="1280.35" x2="573.90" y2="1608.45" stroke="#000" stroke-width="3.50" stroke-linecap="butt"/>
<line x1="572.15" y1="1606.70" x2="857.60" y2="1606.70" stroke="#000" stroke-width="3.50" stroke-linecap="butt"/>
<line x1="562.90" y1="1606.70" x2="573.90" y2="1606.70" stroke="#000" stroke-width="2.98" stroke-linecap="butt"/>
<line x1="562.90" y1="1525.55" x2="573.90" y2="1525.55" stroke="#000" stroke-width="2.98" stroke-linecap="butt"/>
<line x1="562.90" y1="1444.40" x2="573.90" y2="1444.40" stroke="#000" stroke-width="2.98" stroke-linecap="butt"/>
<line x1="562.90" y1="1363.25" x2="573.90" y2="1363.25" stroke="#000" stroke-width="2.98" stroke-linecap="butt"/>
<line x1="562.90" y1="1282.10" x2="573.90" y2="1282.10" stroke="#000" stroke-width="2.98" stroke-linecap="butt"/>
<rect x="597.25" y="1446.95" width="92.80" height="159.75" fill="#ffffff" stroke="#000" stroke-width="4.90" stroke-linejoin="round"/>
<rect x="738.95" y="1354.95" width="92.60" height="251.75" fill="#a1a1a3" stroke="#000" stroke-width="4.90" stroke-linejoin="round"/>
<line x1="644.60" y1="1414.50" x2="644.60" y2="1477.00" stroke="#000" stroke-width="4.90" stroke-linecap="butt"/>
<line x1="621.95" y1="1416.95" x2="667.55" y2="1416.95" stroke="#000" stroke-width="4.90" stroke-linecap="round"/>
<line x1="621.95" y1="1474.55" x2="667.55" y2="1474.55" stroke="#000" stroke-width="4.90" stroke-linecap="round"/>
<line x1="786.00" y1="1326.70" x2="786.00" y2="1381.50" stroke="#000" stroke-width="4.90" stroke-linecap="butt"/>
<line x1="761.85" y1="1329.15" x2="809.55" y2="1329.15" stroke="#000" stroke-width="4.90" stroke-linecap="round"/>
<line x1="761.85" y1="1379.05" x2="809.55" y2="1379.05" stroke="#000" stroke-width="4.90" stroke-linecap="round"/>
<line x1="644.40" y1="1606.70" x2="644.40" y2="1617.00" stroke="#000" stroke-width="3.00" stroke-linecap="butt"/>
<line x1="785.90" y1="1606.70" x2="785.90" y2="1617.00" stroke="#000" stroke-width="3.00" stroke-linecap="butt"/>
<line x1="635.00" y1="1297.30" x2="785.60" y2="1297.30" stroke="#000" stroke-width="4.60" stroke-linecap="butt"/>
<line x1="635.00" y1="1289.50" x2="635.00" y2="1305.10" stroke="#000" stroke-width="4.60" stroke-linecap="round"/>
<line x1="785.60" y1="1289.50" x2="785.60" y2="1305.10" stroke="#000" stroke-width="4.60" stroke-linecap="round"/>
<line x1="985.70" y1="1287.05" x2="985.70" y2="1607.55" stroke="#000" stroke-width="3.30" stroke-linecap="butt"/>
<line x1="984.05" y1="1605.90" x2="1237.00" y2="1605.90" stroke="#000" stroke-width="3.30" stroke-linecap="butt"/>
<line x1="975.70" y1="1605.90" x2="985.70" y2="1605.90" stroke="#000" stroke-width="2.80" stroke-linecap="butt"/>
<line x1="975.70" y1="1500.17" x2="985.70" y2="1500.17" stroke="#000" stroke-width="2.80" stroke-linecap="butt"/>
<line x1="975.70" y1="1394.43" x2="985.70" y2="1394.43" stroke="#000" stroke-width="2.80" stroke-linecap="butt"/>
<line x1="975.70" y1="1288.70" x2="985.70" y2="1288.70" stroke="#000" stroke-width="2.80" stroke-linecap="butt"/>
<rect x="1008.70" y="1384.70" width="81.10" height="221.20" fill="#ffffff" stroke="#000" stroke-width="4.40" stroke-linejoin="round"/>
<rect x="1132.30" y="1349.50" width="82.00" height="256.40" fill="#a1a1a3" stroke="#000" stroke-width="4.40" stroke-linejoin="round"/>
<rect x="1026.00" y="1378.50" width="46.00" height="11.50" rx="1.5" fill="#000"/>
<rect x="1150.80" y="1342.30" width="46.20" height="14.60" rx="1.5" fill="#000"/>
<line x1="1050.00" y1="1605.90" x2="1050.00" y2="1615.60" stroke="#000" stroke-width="3.00" stroke-linecap="butt"/>
<line x1="1174.40" y1="1605.90" x2="1174.40" y2="1615.60" stroke="#000" stroke-width="3.00" stroke-linecap="butt"/>
<line x1="1040.60" y1="1304.20" x2="1173.50" y2="1304.20" stroke="#000" stroke-width="4.20" stroke-linecap="butt"/>
<line x1="1040.60" y1="1296.40" x2="1040.60" y2="1312.40" stroke="#000" stroke-width="4.20" stroke-linecap="round"/>
<line x1="1173.50" y1="1296.40" x2="1173.50" y2="1312.40" stroke="#000" stroke-width="4.20" stroke-linecap="round"/>
<text x="20.80" y="44.00" font-size="46.88" textLength="31.35" lengthAdjust="spacingAndGlyphs" fill="#000">A</text>
<text x="21.27" y="266.70" font-size="46.78" textLength="31.16" lengthAdjust="spacingAndGlyphs" fill="#000">B</text>
<text x="16.64" y="458.77" font-size="46.69" textLength="36.38" lengthAdjust="spacingAndGlyphs" fill="#000">C</text>
<text x="20.46" y="919.50" font-size="47.85" textLength="34.18" lengthAdjust="spacingAndGlyphs" fill="#000">D</text>
<text x="23.98" y="1271.20" font-size="47.85" textLength="30.87" lengthAdjust="spacingAndGlyphs" fill="#000">E</text>
<text x="24.26" y="1471.20" font-size="47.85" textLength="28.78" lengthAdjust="spacingAndGlyphs" fill="#000">F</text>
<text x="117.35" y="39.20" font-size="28.87" textLength="68.96" lengthAdjust="spacingAndGlyphs" fill="#000">CON</text>
<text x="202.81" y="38.80" font-size="28.28" textLength="107.22" lengthAdjust="spacingAndGlyphs" fill="#000">NEOLP</text>
<text x="325.82" y="38.60" font-size="26.64" textLength="83.00" lengthAdjust="spacingAndGlyphs" fill="#000">EOLP</text>
<text x="10.48" y="105.30" font-size="25.17" textLength="96.14" lengthAdjust="spacingAndGlyphs" fill="#000">γδTCR</text>
<text x="12.55" y="180.40" font-size="26.16" textLength="91.73" lengthAdjust="spacingAndGlyphs" fill="#000">β-actin</text>
<text x="423.04" y="103.70" font-size="30.86" textLength="92.56" lengthAdjust="spacingAndGlyphs" fill="#000">26 kDa</text>
<text x="419.50" y="191.00" font-size="29.87" textLength="91.00" lengthAdjust="spacingAndGlyphs" fill="#000">42 kDa</text>
<text x="15.24" y="308.20" font-size="27.39" textLength="95.87" lengthAdjust="spacingAndGlyphs" fill="#000">IL-17A</text>
<text x="15.37" y="391.00" font-size="26.43" textLength="90.92" lengthAdjust="spacingAndGlyphs" fill="#000">β-actin</text>
<text x="422.60" y="305.00" font-size="28.44" textLength="93.10" lengthAdjust="spacingAndGlyphs" fill="#000">17 kDa</text>
<text x="425.00" y="397.00" font-size="27.73" textLength="90.70" lengthAdjust="spacingAndGlyphs" fill="#000">42 kDa</text>
<text x="155.94" y="475.50" font-size="25.90" textLength="64.09" lengthAdjust="spacingAndGlyphs" fill="#000">OLP</text>
<text x="264.85" y="475.90" font-size="27.39" textLength="68.86" lengthAdjust="spacingAndGlyphs" fill="#000">CON</text>
<text x="28.70" y="538.30" font-size="27.43" textLength="80.57" lengthAdjust="spacingAndGlyphs" fill="#000">IFN-γ</text>
<text x="10.91" y="635.50" font-size="26.79" textLength="98.78" lengthAdjust="spacingAndGlyphs" fill="#000">STING</text>
<text x="19.51" y="729.30" font-size="27.53" textLength="81.55" lengthAdjust="spacingAndGlyphs" fill="#000">TBK1</text>
<text x="10.92" y="797.40" font-size="25.04" textLength="93.57" lengthAdjust="spacingAndGlyphs" fill="#000">β-actin</text>
<text x="375.44" y="534.90" font-size="28.30" textLength="92.66" lengthAdjust="spacingAndGlyphs" fill="#000">20 kDa</text>
<text x="378.55" y="608.90" font-size="28.44" textLength="91.65" lengthAdjust="spacingAndGlyphs" fill="#000">33 kDa</text>
<text x="378.55" y="647.70" font-size="28.44" textLength="91.65" lengthAdjust="spacingAndGlyphs" fill="#000">35 kDa</text>
<text x="378.54" y="725.90" font-size="28.16" textLength="92.76" lengthAdjust="spacingAndGlyphs" fill="#000">84 kDa</text>
<text x="373.30" y="804.70" font-size="27.59" textLength="91.10" lengthAdjust="spacingAndGlyphs" fill="#000">42 kDa</text>
<text x="188.05" y="921.00" font-size="26.94" textLength="68.65" lengthAdjust="spacingAndGlyphs" fill="#000">CON</text>
<text x="288.55" y="920.70" font-size="26.79" textLength="63.78" lengthAdjust="spacingAndGlyphs" fill="#000">OLP</text>
<text x="11.90" y="972.60" font-size="28.43" textLength="125.98" lengthAdjust="spacingAndGlyphs" fill="#000">p-STING</text>
<text x="29.20" y="1069.40" font-size="28.43" textLength="109.06" lengthAdjust="spacingAndGlyphs" fill="#000">p-TBK1</text>
<text x="41.82" y="1160.70" font-size="25.60" textLength="93.77" lengthAdjust="spacingAndGlyphs" fill="#000">β-actin</text>
<text x="413.90" y="964.00" font-size="28.59" textLength="91.60" lengthAdjust="spacingAndGlyphs" fill="#000">40 kDa</text>
<text x="413.05" y="1061.90" font-size="29.30" textLength="92.45" lengthAdjust="spacingAndGlyphs" fill="#000">84 kDa</text>
<text x="414.00" y="1160.00" font-size="28.87" textLength="91.50" lengthAdjust="spacingAndGlyphs" fill="#000">42 kDa</text>
<text x="157.37" y="1262.70" font-size="26.79" textLength="67.73" lengthAdjust="spacingAndGlyphs" fill="#000">CON</text>
<text x="249.53" y="1262.00" font-size="25.30" textLength="64.51" lengthAdjust="spacingAndGlyphs" fill="#000">OLP</text>
<text x="36.40" y="1322.00" font-size="28.43" textLength="85.50" lengthAdjust="spacingAndGlyphs" fill="#000">CCR6</text>
<text x="38.24" y="1402.60" font-size="25.88" textLength="92.24" lengthAdjust="spacingAndGlyphs" fill="#000">β-actin</text>
<text x="332.80" y="1323.90" font-size="30.01" textLength="91.40" lengthAdjust="spacingAndGlyphs" fill="#000">41 kDa</text>
<text x="330.50" y="1405.70" font-size="29.30" textLength="91.20" lengthAdjust="spacingAndGlyphs" fill="#000">42 kDa</text>
<text x="13.31" y="1510.90" font-size="27.68" textLength="124.81" lengthAdjust="spacingAndGlyphs" fill="#000">HLA-DR</text>
<text x="39.46" y="1584.40" font-size="25.60" textLength="91.43" lengthAdjust="spacingAndGlyphs" fill="#000">β-actin</text>
<text x="329.94" y="1511.20" font-size="28.44" textLength="93.26" lengthAdjust="spacingAndGlyphs" fill="#000">35 kDa</text>
<text x="334.70" y="1593.60" font-size="28.73" textLength="90.90" lengthAdjust="spacingAndGlyphs" fill="#000">42 kDa</text>
<text x="579.28" y="353.61" font-size="21.67" textLength="28.74" lengthAdjust="spacingAndGlyphs" fill="#000">0.0</text>
<text x="579.28" y="290.69" font-size="21.67" textLength="28.74" lengthAdjust="spacingAndGlyphs" fill="#000">0.2</text>
<text x="579.29" y="227.76" font-size="21.67" textLength="28.36" lengthAdjust="spacingAndGlyphs" fill="#000">0.4</text>
<text x="579.29" y="164.84" font-size="21.67" textLength="28.36" lengthAdjust="spacingAndGlyphs" fill="#000">0.6</text>
<text x="579.28" y="101.91" font-size="21.67" textLength="28.74" lengthAdjust="spacingAndGlyphs" fill="#000">0.8</text>
<text x="636.82" y="372.70" font-size="20.54" textLength="46.25" lengthAdjust="spacingAndGlyphs" fill="#000">CON</text>
<text x="708.67" y="372.70" font-size="20.54" textLength="72.69" lengthAdjust="spacingAndGlyphs" fill="#000">NEOLP</text>
<text x="801.17" y="372.70" font-size="20.54" textLength="56.98" lengthAdjust="spacingAndGlyphs" fill="#000">EOLP</text>
<text x="695.29" y="41.60" font-size="17.27" textLength="109.69" lengthAdjust="spacingAndGlyphs" fill="#000"><tspan font-style="italic">P</tspan> &lt; 0.0001***</text>
<text x="689.70" y="98.86" font-size="19.71" textLength="25.67" lengthAdjust="spacingAndGlyphs" fill="#444" font-family="Liberation Sans">***</text>
<text x="753.29" y="94.50" font-size="17.12" textLength="89.99" lengthAdjust="spacingAndGlyphs" fill="#000"><tspan font-style="italic">P</tspan> = 0.0427*</text>
<text transform="translate(538.00 348.65) rotate(-90)" font-size="17.20" textLength="254.96" lengthAdjust="spacingAndGlyphs">Protein relative expression</text>
<text transform="translate(566.00 296.22) rotate(-90)" font-size="18.50" textLength="154.94" lengthAdjust="spacingAndGlyphs">(γ δ TCR/β -actin)</text>
<text x="940.71" y="353.95" font-size="19.05" textLength="27.58" lengthAdjust="spacingAndGlyphs" fill="#000">0.0</text>
<text x="940.70" y="294.53" font-size="19.05" textLength="27.95" lengthAdjust="spacingAndGlyphs" fill="#000">0.1</text>
<text x="940.71" y="235.10" font-size="19.05" textLength="27.58" lengthAdjust="spacingAndGlyphs" fill="#000">0.2</text>
<text x="940.71" y="175.68" font-size="19.05" textLength="27.58" lengthAdjust="spacingAndGlyphs" fill="#000">0.3</text>
<text x="940.72" y="116.25" font-size="19.05" textLength="27.22" lengthAdjust="spacingAndGlyphs" fill="#000">0.4</text>
<text x="997.59" y="373.00" font-size="20.54" textLength="47.88" lengthAdjust="spacingAndGlyphs" fill="#000">CON</text>
<text x="1070.36" y="373.00" font-size="20.54" textLength="74.31" lengthAdjust="spacingAndGlyphs" fill="#000">NEOLP</text>
<text x="1164.56" y="373.00" font-size="20.54" textLength="58.60" lengthAdjust="spacingAndGlyphs" fill="#000">EOLP</text>
<text x="1057.79" y="60.00" font-size="17.27" textLength="109.79" lengthAdjust="spacingAndGlyphs" fill="#000"><tspan font-style="italic">P</tspan> &lt; 0.0001***</text>
<text x="1053.60" y="114.42" font-size="17.66" textLength="26.37" lengthAdjust="spacingAndGlyphs" fill="#444" font-family="Liberation Sans">***</text>
<text x="1142.80" y="114.42" font-size="17.66" textLength="25.57" lengthAdjust="spacingAndGlyphs" fill="#444" font-family="Liberation Sans">***</text>
<text transform="translate(897.90 346.33) rotate(-90)" font-size="16.80" textLength="237.72" lengthAdjust="spacingAndGlyphs">Protein relative expression</text>
<text transform="translate(925.20 299.32) rotate(-90)" font-size="18.00" textLength="143.73" lengthAdjust="spacingAndGlyphs">(IL-17A/β -actin)</text>
<text x="541.85" y="819.97" font-size="27.64" textLength="30.00" lengthAdjust="spacingAndGlyphs" fill="#000">0.0</text>
<text x="541.85" y="739.49" font-size="27.64" textLength="30.00" lengthAdjust="spacingAndGlyphs" fill="#000">0.2</text>
<text x="541.86" y="659.02" font-size="27.64" textLength="29.61" lengthAdjust="spacingAndGlyphs" fill="#000">0.4</text>
<text x="541.86" y="578.54" font-size="27.64" textLength="29.61" lengthAdjust="spacingAndGlyphs" fill="#000">0.6</text>
<text x="541.85" y="498.07" font-size="27.64" textLength="30.00" lengthAdjust="spacingAndGlyphs" fill="#000">0.8</text>
<text x="613.14" y="845.30" font-size="26.64" textLength="50.13" lengthAdjust="spacingAndGlyphs" fill="#000">CON</text>
<text x="726.20" y="845.50" font-size="26.94" textLength="48.41" lengthAdjust="spacingAndGlyphs" fill="#000">OLP</text>
<text x="640.51" y="486.50" font-size="19.80" textLength="107.41" lengthAdjust="spacingAndGlyphs" fill="#000"><tspan font-style="italic">P</tspan> = 0.0019**</text>
<text transform="translate(499.50 810.75) rotate(-90)" font-size="24.00" textLength="325.72" lengthAdjust="spacingAndGlyphs">Protein relative expression</text>
<text transform="translate(526.50 738.32) rotate(-90)" font-size="22.50" textLength="181.97" lengthAdjust="spacingAndGlyphs">(IFN-γ /β -actin)</text>
<text x="848.97" y="812.68" font-size="20.36" textLength="33.26" lengthAdjust="spacingAndGlyphs" fill="#000">0.0</text>
<text x="848.97" y="754.66" font-size="20.36" textLength="33.26" lengthAdjust="spacingAndGlyphs" fill="#000">0.2</text>
<text x="848.98" y="696.64" font-size="20.36" textLength="32.83" lengthAdjust="spacingAndGlyphs" fill="#000">0.4</text>
<text x="848.98" y="638.62" font-size="20.36" textLength="32.83" lengthAdjust="spacingAndGlyphs" fill="#000">0.6</text>
<text x="848.97" y="580.60" font-size="20.36" textLength="33.26" lengthAdjust="spacingAndGlyphs" fill="#000">0.8</text>
<text x="847.64" y="522.58" font-size="20.36" textLength="34.63" lengthAdjust="spacingAndGlyphs" fill="#000">1.0</text>
<text x="893.78" y="837.00" font-size="22.33" textLength="81.14" lengthAdjust="spacingAndGlyphs" fill="#000">STING</text>
<text x="1054.82" y="837.00" font-size="22.33" textLength="63.52" lengthAdjust="spacingAndGlyphs" fill="#000">TBK1</text>
<text x="922.25" y="510.50" font-size="18.60" textLength="109.65" lengthAdjust="spacingAndGlyphs" fill="#000"><tspan font-style="italic">P</tspan> = 0.0101*</text>
<text x="1066.35" y="658.20" font-size="18.60" textLength="131.35" lengthAdjust="spacingAndGlyphs" fill="#000"><tspan font-style="italic">P</tspan> &lt; 0.0001***</text>
<text x="1182.30" y="504.00" font-size="24.56" textLength="56.79" lengthAdjust="spacingAndGlyphs" fill="#000">CON</text>
<text x="1185.80" y="544.60" font-size="23.96" textLength="52.64" lengthAdjust="spacingAndGlyphs" fill="#000">OLP</text>
<text transform="translate(830.20 804.80) rotate(-90)" font-size="19.50" textLength="293.24" lengthAdjust="spacingAndGlyphs">Protein relative expression</text>
<text x="607.93" y="1200.07" font-size="21.24" textLength="42.74" lengthAdjust="spacingAndGlyphs" fill="#000">0.0</text>
<text x="607.93" y="1137.27" font-size="21.24" textLength="42.74" lengthAdjust="spacingAndGlyphs" fill="#000">0.2</text>
<text x="607.95" y="1074.47" font-size="21.24" textLength="42.18" lengthAdjust="spacingAndGlyphs" fill="#000">0.4</text>
<text x="607.95" y="1011.67" font-size="21.24" textLength="42.18" lengthAdjust="spacingAndGlyphs" fill="#000">0.6</text>
<text x="607.93" y="948.87" font-size="21.24" textLength="42.74" lengthAdjust="spacingAndGlyphs" fill="#000">0.8</text>
<text x="606.22" y="886.07" font-size="21.24" textLength="44.49" lengthAdjust="spacingAndGlyphs" fill="#000">1.0</text>
<text x="667.90" y="1226.50" font-size="27.24" textLength="133.11" lengthAdjust="spacingAndGlyphs" fill="#000">p-STING</text>
<text x="867.80" y="1226.10" font-size="26.64" textLength="114.74" lengthAdjust="spacingAndGlyphs" fill="#000">p-TBK1</text>
<text x="695.45" y="948.40" font-size="22.18" textLength="157.15" lengthAdjust="spacingAndGlyphs" fill="#000"><tspan font-style="italic">P</tspan> = 0.0014**</text>
<text x="889.05" y="901.90" font-size="21.73" textLength="157.45" lengthAdjust="spacingAndGlyphs" fill="#000"><tspan font-style="italic">P</tspan> = 0.0021**</text>
<text x="1147.72" y="896.60" font-size="26.79" textLength="74.90" lengthAdjust="spacingAndGlyphs" fill="#000">CON</text>
<text x="1151.69" y="940.10" font-size="26.94" textLength="70.49" lengthAdjust="spacingAndGlyphs" fill="#000">OLP</text>
<text transform="translate(582.30 1191.84) rotate(-90)" font-size="25.00" textLength="316.70" lengthAdjust="spacingAndGlyphs">Protein relative expression</text>
<text x="521.52" y="1614.72" font-size="24.44" textLength="39.05" lengthAdjust="spacingAndGlyphs" fill="#000">0.0</text>
<text x="521.52" y="1533.57" font-size="24.44" textLength="39.05" lengthAdjust="spacingAndGlyphs" fill="#000">0.2</text>
<text x="521.54" y="1452.42" font-size="24.44" textLength="38.55" lengthAdjust="spacingAndGlyphs" fill="#000">0.4</text>
<text x="521.54" y="1371.27" font-size="24.44" textLength="38.55" lengthAdjust="spacingAndGlyphs" fill="#000">0.6</text>
<text x="521.52" y="1290.12" font-size="24.44" textLength="39.05" lengthAdjust="spacingAndGlyphs" fill="#000">0.8</text>
<text x="612.18" y="1640.50" font-size="25.00" textLength="62.72" lengthAdjust="spacingAndGlyphs" fill="#000">CON</text>
<text x="756.25" y="1640.50" font-size="25.00" textLength="59.14" lengthAdjust="spacingAndGlyphs" fill="#000">OLP</text>
<text x="640.79" y="1279.70" font-size="23.07" textLength="147.89" lengthAdjust="spacingAndGlyphs" fill="#000"><tspan font-style="italic">P</tspan> = 0.0009***</text>
<text transform="translate(463.50 1605.55) rotate(-90)" font-size="22.30" textLength="327.12" lengthAdjust="spacingAndGlyphs">Protein relative expression</text>
<text transform="translate(501.80 1533.55) rotate(-90)" font-size="26.00" textLength="185.03" lengthAdjust="spacingAndGlyphs">(CCR6/β -actin)</text>
<text x="940.46" y="1613.87" font-size="24.29" textLength="33.68" lengthAdjust="spacingAndGlyphs" fill="#000">0.0</text>
<text x="940.46" y="1508.14" font-size="24.29" textLength="33.68" lengthAdjust="spacingAndGlyphs" fill="#000">0.2</text>
<text x="940.47" y="1402.40" font-size="24.29" textLength="33.25" lengthAdjust="spacingAndGlyphs" fill="#000">0.4</text>
<text x="940.47" y="1296.67" font-size="24.29" textLength="33.25" lengthAdjust="spacingAndGlyphs" fill="#000">0.6</text>
<text x="1020.22" y="1639.50" font-size="24.56" textLength="56.17" lengthAdjust="spacingAndGlyphs" fill="#000">CON</text>
<text x="1147.38" y="1639.50" font-size="24.56" textLength="53.57" lengthAdjust="spacingAndGlyphs" fill="#000">OLP</text>
<text x="1045.94" y="1287.20" font-size="22.62" textLength="130.74" lengthAdjust="spacingAndGlyphs" fill="#000"><tspan font-style="italic">P</tspan> &lt; 0.0001***</text>
<text transform="translate(889.90 1604.84) rotate(-90)" font-size="19.00" textLength="319.10" lengthAdjust="spacingAndGlyphs">Protein relative expression</text>
<text transform="translate(922.00 1550.31) rotate(-90)" font-size="22.20" textLength="211.26" lengthAdjust="spacingAndGlyphs">(HLA-DR/β -actin)</text>
</svg>
</body></html>
